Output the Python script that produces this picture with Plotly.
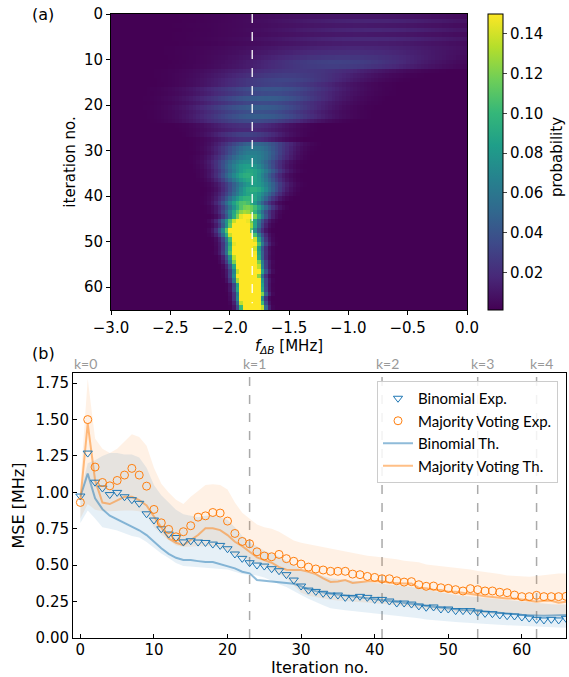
import numpy as np
import plotly.graph_objects as go

W, H = 569, 677

# ---- (a) posterior heatmap: per-iteration peak position / width / height
row_center = [-0.9, -0.8, -0.9, -0.8, -0.9, -0.85, -0.9, -0.95, -1.0, -1.05,
              -1.1, -1.15, -1.4, -1.5, -1.55, -1.6, -1.65, -1.65, -1.7, -1.7,
              -1.75, -1.75, -1.75, -1.8, -1.85, -1.85, -1.85, -1.85, -1.78, -1.8,
              -1.8, -1.82, -1.85, -1.85, -1.83, -1.85, -1.83, -1.8, -1.8, -1.82,
              -1.85, -1.88, -1.85, -1.87, -1.86, -1.9, -1.9, -1.92, -1.9, -1.88,
              -1.87, -1.88, -1.88, -1.87, -1.86, -1.85, -1.84, -1.85, -1.84, -1.83,
              -1.83, -1.82, -1.83, -1.82, -1.81]
row_sigma = [0.75, 0.7, 0.75, 0.7, 0.75, 0.7, 0.7, 0.7, 0.65, 0.6,
             0.55, 0.55, 0.5, 0.45, 0.42, 0.4, 0.4, 0.4, 0.38, 0.38,
             0.36, 0.36, 0.35, 0.33, 0.25, 0.25, 0.22, 0.2, 0.2, 0.19,
             0.18, 0.18, 0.17, 0.16, 0.16, 0.15, 0.15, 0.15, 0.14, 0.14,
             0.13, 0.12, 0.12, 0.11, 0.1, 0.1, 0.09, 0.09, 0.09, 0.085,
             0.085, 0.08, 0.08, 0.075, 0.075, 0.07, 0.07, 0.065, 0.065, 0.06,
             0.06, 0.06, 0.055, 0.055, 0.055]
row_peak = [0.010, 0.016, 0.011, 0.017, 0.011, 0.018, 0.013, 0.017, 0.02, 0.025,
            0.03, 0.028, 0.025, 0.028, 0.032, 0.03, 0.04, 0.035, 0.045, 0.035,
            0.045, 0.038, 0.045, 0.035, 0.022, 0.018, 0.03, 0.022, 0.05, 0.06,
            0.065, 0.07, 0.075, 0.085, 0.09, 0.095, 0.09, 0.085, 0.095, 0.09,
            0.10, 0.11, 0.12, 0.13, 0.16, 0.17, 0.2, 0.22, 0.24, 0.26,
            0.27, 0.28, 0.3, 0.3, 0.32, 0.34, 0.34, 0.36, 0.38, 0.4,
            0.42, 0.42, 0.45, 0.45, 0.45]
f_true = -1.81  # MHz, dashed white line

# ---- (b) MSE curves
iterations = list(range(67))
binom_exp = [0.975, 1.27, 1.07, 1.03, 0.985, 1.00, 0.97, 0.95, 0.925, 0.853,
             0.81, 0.75, 0.714, 0.69, 0.66, 0.668, 0.659, 0.656, 0.645, 0.636,
             0.613, 0.577, 0.547, 0.517, 0.501, 0.494, 0.476, 0.462, 0.435, 0.398,
             0.357, 0.329, 0.32, 0.307, 0.295, 0.295, 0.279, 0.279, 0.286, 0.279,
             0.265, 0.265, 0.254, 0.24, 0.24, 0.233, 0.22, 0.211, 0.213, 0.199,
             0.199, 0.188, 0.188, 0.188, 0.178, 0.169, 0.167, 0.158, 0.153, 0.151,
             0.144, 0.137, 0.128, 0.124, 0.128, 0.124, 0.135]
major_exp = [0.931, 1.50, 1.174, 1.068, 1.045, 1.082, 1.119, 1.165, 1.119, 1.043,
             0.883, 0.791, 0.746, 0.695, 0.73, 0.771, 0.83, 0.839, 0.862, 0.858,
             0.803, 0.718, 0.663, 0.647, 0.592, 0.563, 0.558, 0.574, 0.545, 0.527,
             0.508, 0.487, 0.474, 0.467, 0.458, 0.458, 0.458, 0.439, 0.435, 0.423,
             0.416, 0.407, 0.407, 0.393, 0.384, 0.387, 0.366, 0.355, 0.357, 0.345,
             0.341, 0.332, 0.323, 0.339, 0.332, 0.323, 0.323, 0.314, 0.311, 0.295,
             0.284, 0.284, 0.293, 0.284, 0.284, 0.284, 0.286]
binom_th = [0.97, 1.13, 0.96, 0.885, 0.84, 0.815, 0.791, 0.765, 0.74, 0.707,
            0.661, 0.616, 0.578, 0.551, 0.536, 0.535, 0.528, 0.522, 0.522, 0.508,
            0.494, 0.478, 0.455, 0.444, 0.398, 0.393, 0.386, 0.378, 0.375, 0.372,
            0.355, 0.334, 0.322, 0.312, 0.304, 0.298, 0.292, 0.286, 0.28, 0.274,
            0.266, 0.262, 0.256, 0.25, 0.244, 0.238, 0.228, 0.22, 0.214, 0.207,
            0.202, 0.197, 0.193, 0.19, 0.185, 0.18, 0.176, 0.172, 0.168, 0.164,
            0.16, 0.157, 0.152, 0.152, 0.155, 0.157, 0.158]
major_th = [0.95, 1.473, 1.084, 0.93, 0.92, 0.945, 0.97, 0.97, 0.947, 0.91,
            0.833, 0.753, 0.684, 0.654, 0.638, 0.673, 0.707, 0.753, 0.753, 0.741,
            0.707, 0.661, 0.631, 0.592, 0.554, 0.535, 0.517, 0.487, 0.469, 0.467,
            0.467, 0.455, 0.439, 0.41, 0.385, 0.388, 0.398, 0.378, 0.385, 0.39,
            0.39, 0.39, 0.38, 0.375, 0.375, 0.375, 0.345, 0.341, 0.332, 0.33,
            0.318, 0.318, 0.311, 0.307, 0.295, 0.286, 0.284, 0.277, 0.272, 0.272,
            0.265, 0.256, 0.249, 0.256, 0.256, 0.242, 0.249]
major_hi = [1.05, 1.78, 1.37, 1.30, 1.27, 1.30, 1.35, 1.40, 1.38, 1.32,
            1.17, 1.06, 1.00, 0.95, 0.92, 0.97, 1.01, 1.05, 1.056, 1.05,
            1.02, 0.93, 0.86, 0.82, 0.78, 0.76, 0.75, 0.73, 0.70, 0.67,
            0.655, 0.645, 0.635, 0.62, 0.61, 0.60, 0.59, 0.58, 0.57, 0.565,
            0.56, 0.555, 0.55, 0.54, 0.53, 0.525, 0.52, 0.505, 0.50, 0.495,
            0.49, 0.48, 0.477, 0.47, 0.46, 0.455, 0.445, 0.44, 0.43, 0.425,
            0.42, 0.42, 0.425, 0.43, 0.44, 0.443, 0.443]
major_lo = [0.82, 0.92, 0.88, 0.87, 0.87, 0.875, 0.875, 0.875, 0.87, 0.84,
            0.76, 0.71, 0.67, 0.635, 0.625, 0.63, 0.63, 0.63, 0.63, 0.62,
            0.60, 0.57, 0.55, 0.535, 0.51, 0.49, 0.465, 0.44, 0.41, 0.36,
            0.31, 0.29, 0.28, 0.27, 0.262, 0.258, 0.255, 0.25, 0.247, 0.243,
            0.24, 0.236, 0.23, 0.225, 0.22, 0.213, 0.205, 0.195, 0.19, 0.185,
            0.18, 0.178, 0.175, 0.172, 0.17, 0.167, 0.163, 0.16, 0.158, 0.155,
            0.153, 0.152, 0.15, 0.149, 0.148, 0.147, 0.147]
binom_hi = [1.0, 1.2, 1.22, 1.25, 1.27, 1.27, 1.26, 1.26, 1.24, 1.17,
            1.05, 0.98, 0.93, 0.88, 0.85, 0.84, 0.83, 0.84, 0.84, 0.83,
            0.81, 0.76, 0.70, 0.66, 0.63, 0.60, 0.58, 0.56, 0.53, 0.50,
            0.47, 0.455, 0.44, 0.425, 0.41, 0.405, 0.40, 0.395, 0.39, 0.385,
            0.38, 0.375, 0.37, 0.365, 0.36, 0.35, 0.34, 0.33, 0.32, 0.31,
            0.30, 0.295, 0.29, 0.285, 0.28, 0.275, 0.27, 0.265, 0.26, 0.255,
            0.25, 0.245, 0.24, 0.235, 0.232, 0.23, 0.23]
binom_lo = [0.79, 0.875, 0.82, 0.76, 0.75, 0.738, 0.72, 0.70, 0.69, 0.66,
            0.62, 0.58, 0.55, 0.515, 0.495, 0.49, 0.49, 0.485, 0.48, 0.475,
            0.47, 0.455, 0.44, 0.435, 0.43, 0.415, 0.39, 0.37, 0.35, 0.32,
            0.295, 0.27, 0.245, 0.225, 0.205, 0.195, 0.19, 0.185, 0.18, 0.172,
            0.166, 0.16, 0.155, 0.15, 0.145, 0.14, 0.135, 0.127, 0.124, 0.12,
            0.115, 0.11, 0.106, 0.102, 0.098, 0.095, 0.092, 0.09, 0.087, 0.085,
            0.082, 0.08, 0.078, 0.076, 0.074, 0.072, 0.07]
k_iters = [0, 23, 41, 54, 62]
k_labels = ["k=0", "k=1", "k=2", "k=3", "k=4"]

BLUE = "31,119,180"
ORANGE = "255,127,14"

# heatmap grid
f_grid = np.linspace(-2.985, -0.015, 100)
z = np.array([p * np.exp(-0.5 * ((f_grid - c) / s) ** 2)
              for c, s, p in zip(row_center, row_sigma, row_peak)])
rows = np.arange(len(row_center)) + 0.5

fig = go.Figure()
fig.add_trace(go.Heatmap(
    x=f_grid, y=rows, z=z, colorscale="Viridis", zmin=0.001, zmax=0.15,
    xaxis="x", yaxis="y", showscale=True,
    colorbar=dict(x=488 / W, xanchor="left", xref="paper", yref="paper",
                  y=1 - 14 / H, yanchor="top", len=296 / H, lenmode="fraction",
                  xpad=0, ypad=0,
                  thickness=15, outlinewidth=1, outlinecolor="black",
                  tick0=0, dtick=0.02, tickformat=".2f", ticks="outside", ticklen=4,
                  tickfont=dict(size=15)),
))
fig.add_trace(go.Scatter(x=[f_true, f_true], y=[0, rows[-1] - 1], mode="lines",
                         line=dict(color="white", width=1.3, dash="dash"),
                         xaxis="x", yaxis="y", showlegend=False, hoverinfo="skip"))

# bands (b)
for lo, hi, col in [(major_lo, major_hi, ORANGE), (binom_lo, binom_hi, BLUE)]:
    fig.add_trace(go.Scatter(x=iterations, y=lo, mode="lines", line=dict(width=0),
                             xaxis="x2", yaxis="y2", showlegend=False, hoverinfo="skip"))
    fig.add_trace(go.Scatter(x=iterations, y=hi, mode="lines", line=dict(width=0),
                             fill="tonexty", fillcolor=f"rgba({col},0.11)",
                             xaxis="x2", yaxis="y2", showlegend=False, hoverinfo="skip"))

fig.add_trace(go.Scatter(x=iterations, y=binom_th, mode="lines", name="Binomial Th.",
                         line=dict(color=f"rgba({BLUE},0.5)", width=2),
                         xaxis="x2", yaxis="y2", legendrank=3))
fig.add_trace(go.Scatter(x=iterations, y=major_th, mode="lines", name="Majority Voting Th.",
                         line=dict(color=f"rgba({ORANGE},0.5)", width=2),
                         xaxis="x2", yaxis="y2", legendrank=4))
fig.add_trace(go.Scatter(x=iterations, y=binom_exp, mode="markers", name="Binomial Exp.",
                         marker=dict(symbol="triangle-down-open", size=8,
                                     color=f"rgb({BLUE})", line=dict(width=1)),
                         xaxis="x2", yaxis="y2", legendrank=1))
fig.add_trace(go.Scatter(x=iterations, y=major_exp, mode="markers", name="Majority Voting Exp.",
                         marker=dict(symbol="circle-open", size=8,
                                     color=f"rgb({ORANGE})", line=dict(width=1)),
                         xaxis="x2", yaxis="y2", legendrank=2))

shapes = []
annotations = []
for k, lab in zip(k_iters, k_labels):
    if k > 0:
        shapes.append(dict(type="line", xref="x2", yref="y2 domain", x0=k, x1=k, y0=0, y1=1,
                           line=dict(color="#aaaaaa", width=1.5, dash="dash"), layer="below"))
    annotations.append(dict(text=lab, xref="x2", yref="paper", x=k + 0.7, y=1 - 374 / H,
                            xanchor="center", yanchor="bottom", showarrow=False,
                            font=dict(family="Lato", size=14, color="#999999")))
annotations.append(dict(text="(a)", xref="paper", yref="paper", x=43 / W, y=1 - 14 / H,
                        xanchor="center", yanchor="middle",
                        showarrow=False, font=dict(size=16)))
annotations.append(dict(text="(b)", xref="paper", yref="paper", x=43 / W, y=1 - 353 / H,
                        xanchor="center", yanchor="middle",
                        showarrow=False, font=dict(size=16)))
annotations.append(dict(text="probability", xref="paper", yref="paper", x=557 / W,
                        y=1 - 157 / H, xanchor="center", yanchor="middle", textangle=-90,
                        showarrow=False, font=dict(size=15)))
annotations.append(dict(text="Iteration no.", xref="x2 domain", yref="paper", x=0.5,
                        y=1 - 667 / H, xanchor="center", yanchor="middle",
                        showarrow=False, font=dict(size=16)))

axis_common = dict(showgrid=False, zeroline=False, showline=True, linecolor="black",
                   linewidth=1, mirror=True, tickfont=dict(size=15), ticklen=4,
                   tickcolor="black")

fig.update_layout(
    width=W, height=H, margin=dict(l=0, r=0, t=0, b=0, autoexpand=False),
    paper_bgcolor="white", plot_bgcolor="white",
    font=dict(family="DejaVu Sans", size=15, color="black"),
    xaxis=dict(domain=[111 / W, 467 / W], range=[-3, 0], dtick=0.5, tickformat=".1f",
               ticks="outside", anchor="y",
               title=dict(text="<i>f</i><sub><i>ΔB</i></sub> [MHz]", standoff=0,
                          font=dict(size=15)), **axis_common),
    yaxis=dict(domain=[1 - 310 / H, 1 - 14 / H], range=[65, 0], dtick=10,
               ticks="outside", anchor="x",
               title=dict(text="iteration no.", standoff=4, font=dict(size=15)),
               **axis_common),
    xaxis2=dict(domain=[73 / W, 566 / W], range=[-1, 66], dtick=10, ticks="inside",
                anchor="y2", ticklabelstandoff=-2, **axis_common),
    yaxis2=dict(domain=[1 - 638 / H, 1 - 373 / H], range=[0, 1.82], dtick=0.25,
                tickformat=".2f", ticks="inside", anchor="x2",
                title=dict(text="MSE [MHz]", standoff=6, font=dict(size=16)),
                **axis_common),
    legend=dict(x=558 / W, xanchor="right", y=1 - 381 / H, yanchor="top",
                traceorder="normal",
                bgcolor="rgba(255,255,255,0.85)", bordercolor="#cccccc", borderwidth=1,
                font=dict(family="Lato", size=15), tracegroupgap=0),
    shapes=shapes, annotations=annotations,
)

# the page body has a default 8px margin; drop it so the figure sits at the corner
fig.write_html("out.html", config={"displayModeBar": False},
               post_script="document.body.style.margin='0';")
